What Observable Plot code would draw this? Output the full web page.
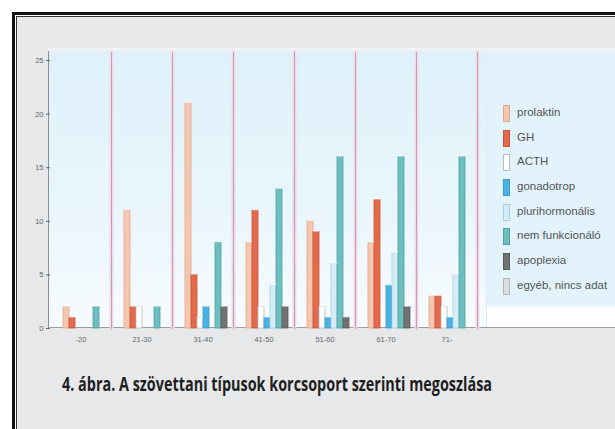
<!DOCTYPE html>
<html><head><meta charset="utf-8">
<script src="https://cdn.jsdelivr.net/npm/d3@7"></script>
<script src="https://cdn.jsdelivr.net/npm/@observablehq/plot@0.6"></script>
<style>
html,body{margin:0;padding:0;background:#fff;}
body{width:615px;height:429px;overflow:hidden;position:relative;font-family:"Liberation Sans",Arial,sans-serif;}
#outer{position:absolute;left:12px;top:12px;width:700px;height:500px;border:3px solid #111;box-sizing:border-box;background:#fff;}
#inner{position:absolute;left:1px;top:1px;right:0;bottom:0;border:1px solid #333;background:#e7e8ea;}
#topband{position:absolute;left:48px;top:48px;width:567px;height:3px;background:#f1f2f3;}
#bg{position:absolute;left:48px;top:51px;width:567px;height:277px;box-sizing:border-box;border-left:1px solid #8a8f94;border-bottom:1px solid #9a9ea2;background:linear-gradient(#def1fa,#eaf6fc 60%,#f7fbfd);}
#panel{position:absolute;left:486px;top:51px;width:129px;height:276px;border-left:1px solid #e2e9ee;background:linear-gradient(#e2f3fb 0px,#e2f3fb 255px,#ffffff 256px);}
#chart{position:absolute;left:0;top:0;}
#legend{position:absolute;left:503px;top:105px;}
.item{position:relative;height:24.7px;}
.sw{position:absolute;left:0;top:0;width:7px;height:17px;box-sizing:border-box;border:1px solid;}
.lab{position:absolute;left:14px;top:1px;font-size:11.5px;color:#555;white-space:nowrap;}
#caption{position:absolute;left:62px;top:370px;font-family:"Open Sans","Noto Sans",sans-serif;font-weight:bold;font-size:20px;color:#1e1e1e;white-space:nowrap;transform-origin:0 0;}
</style></head>
<body>
<div id="outer"><div id="inner"></div></div>
<div id="topband"></div>
<div id="bg"></div>
<div id="panel"></div>
<div id="chart"></div>
<div id="legend"></div>
<div id="caption">4. ábra. A szövettani típusok korcsoport szerinti megoszlása</div>
<script>
// Age groups (x-axis tick labels)
const groups = ["-20", "21-30", "31-40", "41-50", "51-60", "61-70", "71-"];
// Series names (legend)
const series = ["prolaktin", "GH", "ACTH", "gonadotrop", "plurihormonális", "nem funkcionáló", "apoplexia", "egyéb, nincs adat"];
// Values per series, one per age group
const prolaktin     = [2, 11, 21, 8, 10, 8, 3];
const gh            = [1, 2, 5, 11, 9, 12, 3];
const acth          = [0, 2, 1, 2, 2, 0, 2];
const gonadotrop    = [0, 0, 2, 1, 1, 4, 1];
const plurihormonal = [0, 0, 0, 4, 6, 7, 5];
const nemFunkc      = [2, 2, 8, 13, 16, 16, 16];
const apoplexia     = [0, 0, 2, 2, 1, 2, 0];
const egyeb         = [0, 0, 0, 0, 0, 0, 0];
const yTicks = [0, 5, 10, 15, 20, 25];

const fills   = ["#f5c7b0", "#e36a4b", "#ffffff", "#4cb2e4", "#d6edf8", "#6dbfbf", "#727272", "#dcdcdc"];
const strokes = ["#e0a58a", "#c9543a", "#b9bcbf", "#3a9bcc", "#a9cfe2", "#4fa3a3", "#5a5a5a", "#b5b5b5"];

const valueLists = [prolaktin, gh, acth, gonadotrop, plurihormonal, nemFunkc, apoplexia, egyeb];
const data = [];
series.forEach((s, si) => groups.forEach((g, gi) => data.push({group: g, series: s, value: valueLists[si][gi], si})));
const bars = data.filter(d => d.value > 0);

const plot = Plot.plot({
  width: 615,
  height: 360,
  marginLeft: 48,
  marginRight: 136,
  marginTop: 52,
  marginBottom: 32,
  style: {background: "transparent", fontFamily: "Liberation Sans, Arial, sans-serif", fontSize: "7.5px", color: "#666"},
  fx: {domain: groups, padding: 0, axis: "bottom", tickSize: 0, tickPadding: 8, label: null},
  x: {domain: series, axis: null, paddingInner: 0.04, paddingOuter: 0.4, align: 1},
  y: {domain: [0, 25.75], ticks: yTicks, tickSize: 4, tickPadding: 3, label: null},
  color: {type: "identity"},
  marks: [
    Plot.frame({anchor: "right", stroke: "#f0dde8", strokeWidth: 4}),
    Plot.frame({anchor: "right", stroke: "#cc9bb8", strokeWidth: 1.1}),
    Plot.barY(bars, {fx: "group", x: "series", y: "value", fill: d => fills[d.si], stroke: d => strokes[d.si], strokeWidth: 0.8, inset: 0}),
    Plot.tickY(bars, {fx: "group", x: "series", y: "value", stroke: "#ffffff", strokeOpacity: 0.6, strokeWidth: 1.5, dy: -1})
  ]
});
document.getElementById("chart").appendChild(plot);

const leg = document.getElementById("legend");
series.forEach((s, i) => {
  const it = document.createElement("div");
  it.className = "item";
  it.innerHTML = `<div class="sw" style="background:${fills[i]};border-color:${strokes[i]}"></div><div class="lab">${s}</div>`;
  leg.appendChild(it);
});

const cap = document.getElementById("caption");
const w = cap.getBoundingClientRect().width;
cap.style.transform = `scaleX(${430 / w})`;
</script>
</body></html>
